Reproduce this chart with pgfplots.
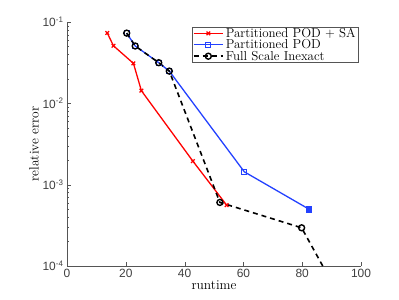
\documentclass[border=0pt]{standalone}
\usepackage{pgfplots}
\pgfplotsset{compat=1.18}
\usepackage{fontspec}
\newfontfamily\tickfont{Liberation Sans}
\definecolor{axgray}{RGB}{85,85,85}
\definecolor{mblue}{RGB}{35,65,255}
\begin{document}
\begin{tikzpicture}
\path[use as bounding box] (0,0) rectangle (399bp,300bp);
\begin{axis}[
  at={(67bp,34bp)}, anchor=south west,
  scale only axis, width=294bp, height=244bp,
  ymode=log,
  xmin=0, xmax=100, ymin=1e-4, ymax=1e-1,
  axis x line*=bottom, axis y line*=left,
  axis line style={axgray,-},
  tick style={axgray},
  tick align=inside,
  xtick={0,20,40,60,80,100},
  ytick={1e-4,1e-3,1e-2,1e-1},
  yticklabels={10\textsuperscript{-4},10\textsuperscript{-3},10\textsuperscript{-2},10\textsuperscript{-1}},
  /pgf/number format/assume math mode=true,
  xticklabel style={font=\tickfont\fontsize{12}{12}\selectfont, text=black!75},
  yticklabel style={font=\tickfont\fontsize{12}{12}\selectfont, text=black!75},
  xlabel={runtime}, ylabel={relative error},
  label style={font=\fontsize{13.5}{13.5}\selectfont},
  xlabel style={yshift=4bp},
  ylabel style={yshift=-3bp},
  major tick length=4bp, minor tick length=2bp,
  clip=true,
  legend style={at={(0.4235,0.9805)}, anchor=north west, draw=axgray, line width=0.6pt,
    font=\fontsize{13}{13}\selectfont, inner xsep=1pt, inner ysep=0.5pt,
    nodes={inner ysep=0.4pt},
    row sep=0pt, legend cell align=left},
  legend image code/.code={
    \draw[mark repeat=2,mark phase=2,#1] plot coordinates {(0cm,0cm) (0.52cm,0cm) (1.04cm,0cm)};
  },
]
\addplot[red, line width=1.3pt, mark=x, mark size=2.6pt, mark options={solid, line width=1.2pt}]
  coordinates {(13.7,0.0733) (15.8,0.051) (22.6,0.031) (25.3,0.0143) (42.8,0.00195) (54.3,0.00056)};
\addlegendentry{Partitioned POD + SA}
\addplot[mblue, line width=1.3pt, mark=square, mark size=2.6pt, mark options={solid, line width=1pt}]
  coordinates {(20.3,0.073) (23.2,0.0507) (31.2,0.0316) (34.8,0.0249) (60.3,0.00144) (82.3,0.0005)};
\addlegendentry{Partitioned POD}
\addplot[black, line width=1.6pt, dash pattern=on 5pt off 4pt, mark=o, mark size=3pt, mark options={solid, line width=1.4pt}]
  coordinates {(20.3,0.073) (23.2,0.0507) (31.2,0.0316) (34.8,0.0249) (52.0,0.000605) (79.8,0.000295) (95,0.00003)};
\addlegendentry{Full Scale Inexact}
\addplot[mblue, only marks, mark=square*, mark size=2.6pt, forget plot] coordinates {(82.3,0.0005)};
\end{axis}
\end{tikzpicture}
\end{document}
